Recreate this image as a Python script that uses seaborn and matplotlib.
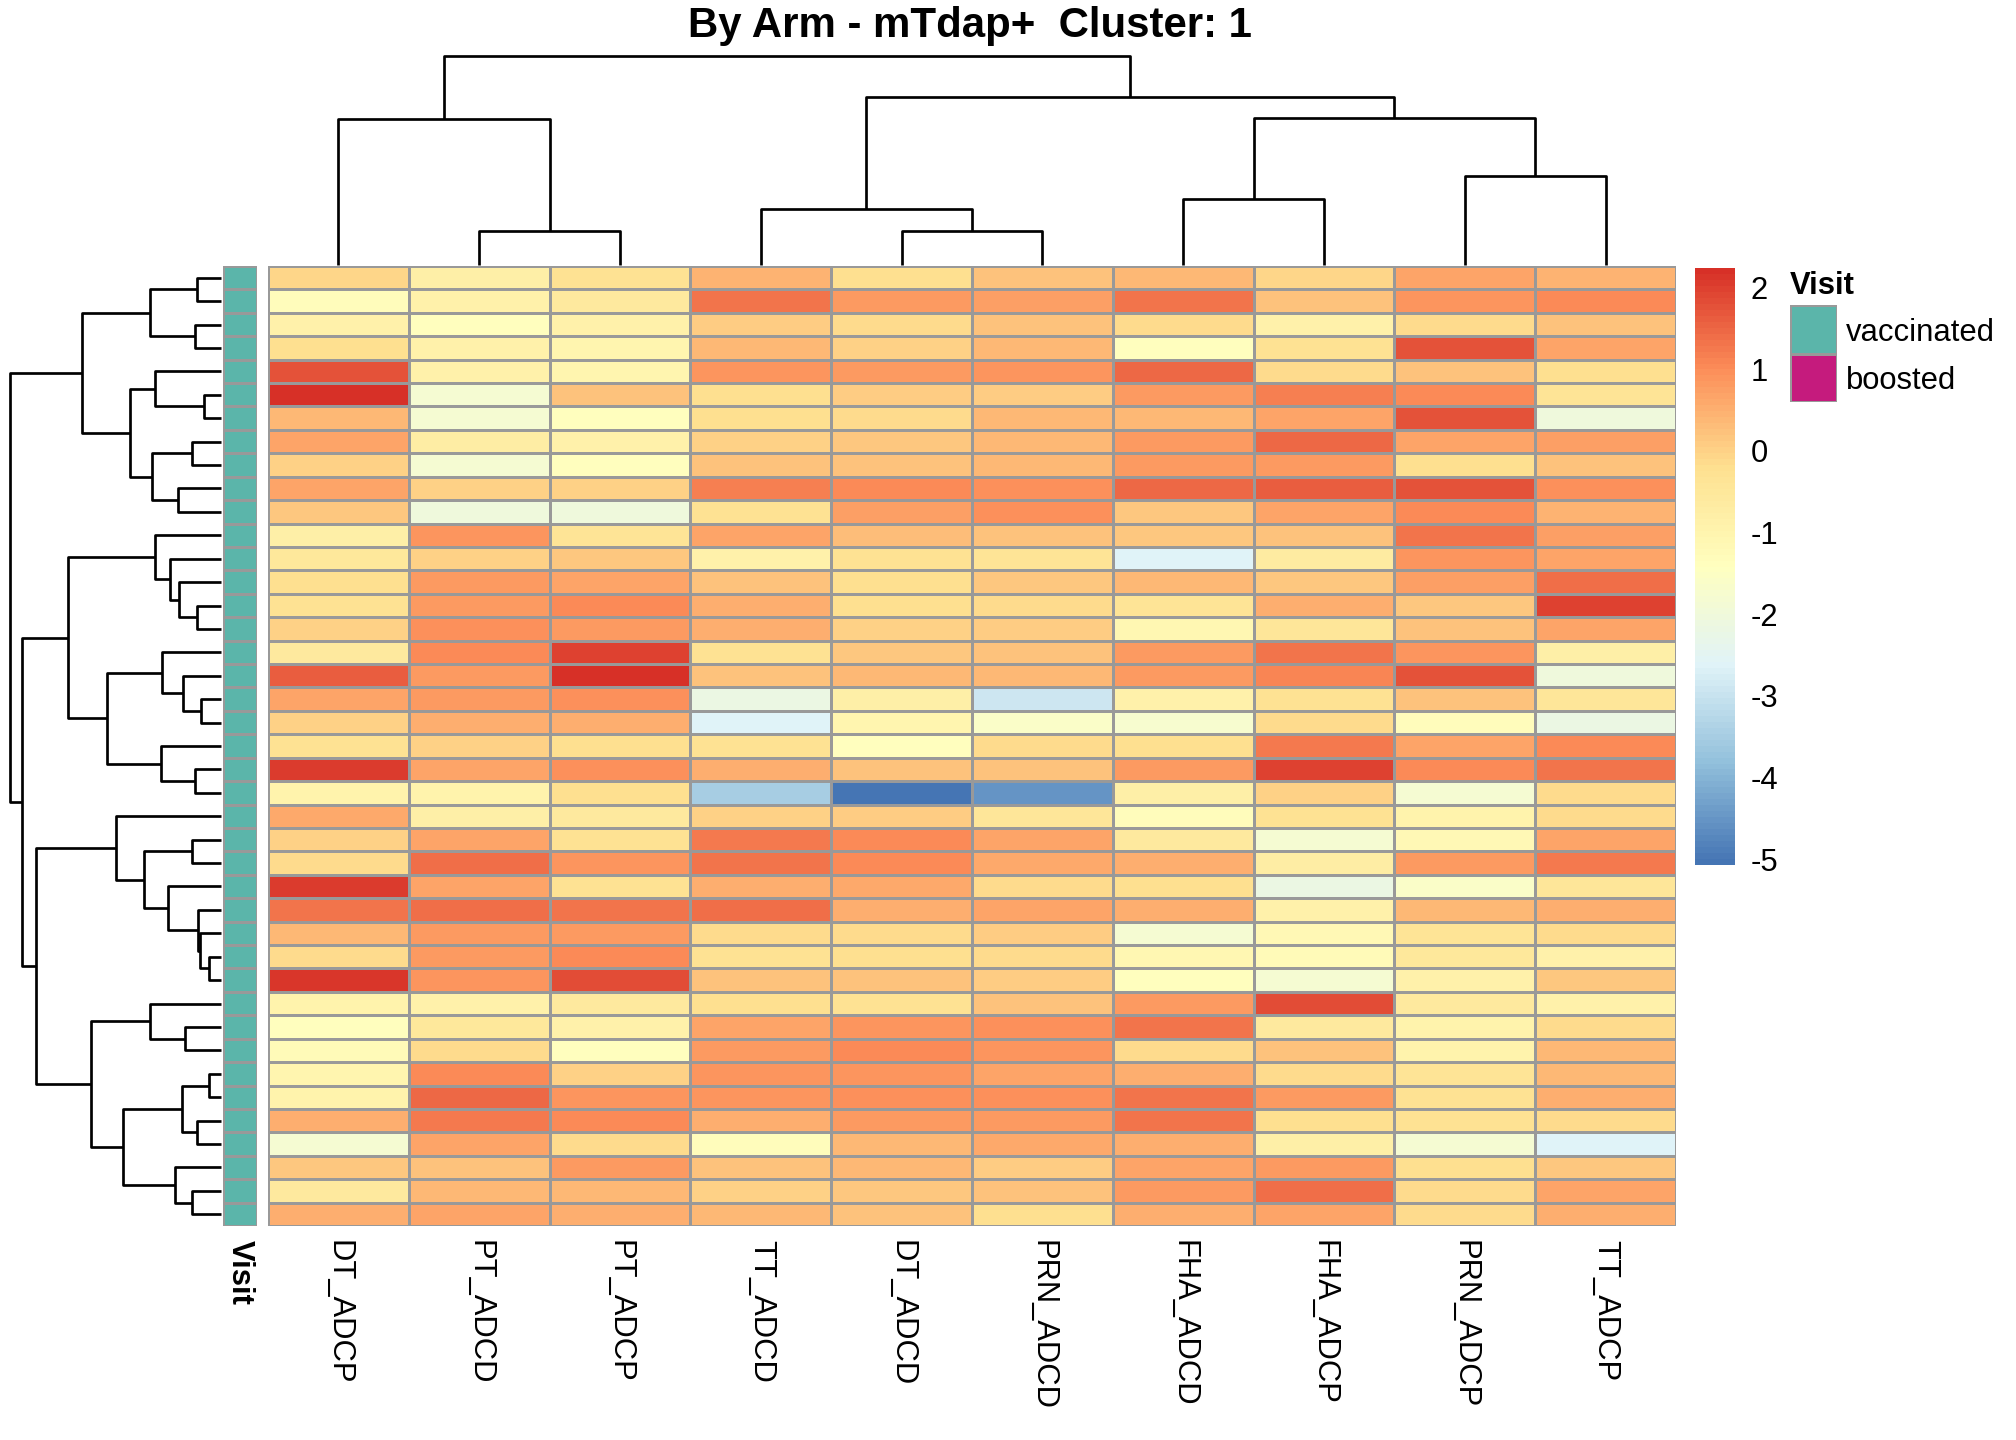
import numpy as np
import pandas as pd
import matplotlib
matplotlib.use("Agg")
import matplotlib.pyplot as plt
from matplotlib.colors import LinearSegmentedColormap, ListedColormap
import seaborn as sns

# ---- data (rows already in dendrogram order, top to bottom) ----
features = ["DT_ADCP", "PT_ADCD", "PT_ADCP", "TT_ADCD", "DT_ADCD",
            "PRN_ADCD", "FHA_ADCD", "FHA_ADCP", "PRN_ADCP", "TT_ADCP"]

dt_adcp = [-0.05, -1.3, -0.85, -0.2, 1.8, 2.2, 0.4, 0.65, 0.0, 0.7,
           0.15, -0.8, -0.5, -0.2, -0.3, 0.0, -0.55, 1.6, 0.7, 0.0,
           -0.3, 2.05, -0.95, 0.6, 0.0, -0.1, 2.05, 1.35, 0.4, -0.1,
           2.1, -0.95, -1.4, -1.25, -1.0, -0.95, 0.5, -1.85, 0.15, -0.55, 0.5]
pt_adcd = [-0.8, -0.9, -1.4, -0.85, -0.85, -1.85, -1.8, -0.7, -1.85, 0.0,
           -2.05, 0.9, 0.0, 0.8, 0.85, 0.95, 1.0, 0.85, 0.8, 0.5,
           0.0, 0.65, -0.95, -0.8, 0.65, 1.4, 0.65, 1.4, 0.85, 0.85,
           0.9, -0.85, -0.5, -0.15, 1.0, 1.5, 1.25, 0.65, 0.2, 0.35, 0.65]
pt_adcp = [-0.3, -0.6, -0.9, -1.0, -1.0, 0.2, -1.4, -0.9, -1.35, 0.0,
           -2.05, -0.35, 0.15, 0.65, 1.05, 0.85, 1.95, 2.2, 0.95, 0.5,
           -0.2, 0.95, -0.2, -0.6, -0.3, 0.9, -0.3, 1.35, 0.85, 1.0,
           1.85, -0.6, -0.85, -1.4, 0.0, 0.9, 1.0, -0.1, 0.85, 0.35, 0.5]
tt_adcd = [0.45, 1.35, 0.05, 0.4, 0.9, -0.2, -0.2, 0.0, 0.25, 1.2,
           -0.25, 0.7, -0.9, 0.2, 0.55, 0.5, -0.3, 0.2, -2.2, -2.6,
           -0.3, 0.5, -3.5, 0.0, 1.25, 1.35, 0.55, 1.4, -0.15, -0.25,
           0.2, -0.2, 0.65, 0.85, 0.9, 0.9, 0.5, -1.3, 0.2, 0.0, 0.4]
dt_adcd = [-0.2, 0.8, -0.15, 0.0, 0.85, 0.1, -0.1, 0.15, 0.2, 1.05,
           0.75, 0.3, -0.25, -0.2, -0.2, 0.0, 0.15, 0.4, -0.8, -1.0,
           -1.4, 0.2, -5.05, 0.1, 1.0, 1.0, 0.6, 0.5, -0.15, -0.2,
           0.2, -0.3, 0.9, 1.0, 0.9, 0.95, 0.8, 0.4, 0.35, 0.15, 0.2]
prn_adcd = [0.25, 0.75, 0.2, 0.4, 0.9, 0.05, 0.35, 0.4, 0.35, 0.95,
            0.95, 0.25, -0.35, 0.15, -0.15, 0.05, 0.25, 0.4, -2.9, -1.6,
            -0.1, 0.2, -4.55, -0.4, 0.65, 0.6, -0.1, 0.65, 0.1, -0.15,
            0.05, 0.25, 0.95, 0.9, 0.65, 0.95, 0.8, 0.6, 0.05, 0.2, -0.2]
fha_adcd = [0.4, 1.3, -0.15, -1.4, 1.5, 0.85, 0.35, 0.85, 0.85, 1.5,
            0.15, 0.15, -2.6, 0.4, -0.35, -1.05, 0.8, 0.85, -0.85, -1.75,
            -0.2, 0.85, -0.8, -1.3, -0.55, 0.5, -0.2, 0.5, -1.85, -1.05,
            -1.4, 0.85, 1.3, -0.15, 0.5, 1.35, 1.35, 0.5, 0.65, 0.8, 0.5]
fha_adcp = [-0.05, 0.2, -0.85, -0.25, -0.15, 1.2, 0.65, 1.5, 0.8, 1.6,
            0.7, 0.2, -0.65, 0.15, 0.5, -0.45, 1.35, 1.1, -0.3, -0.15,
            1.25, 2.0, 0.0, -0.3, -1.85, -0.75, -2.2, -0.85, -1.15, -1.25,
            -1.85, 1.85, -0.6, 0.2, -0.1, 0.8, -0.2, -0.8, 0.85, 1.4, 0.65]
prn_adcp = [0.7, 0.9, -0.1, 1.8, 0.2, 1.0, 1.75, 0.7, -0.2, 1.8,
            1.05, 1.3, 0.9, 0.75, 0.15, 0.25, 0.9, 1.8, 0.25, -1.3,
            0.7, 1.0, -1.85, -0.95, -1.15, 0.8, -1.6, 0.35, -0.35, -0.5,
            -0.85, -0.6, -0.95, -0.95, -0.35, -0.3, -0.3, -1.85, -0.2, -0.15, -0.15]
tt_adcp = [0.45, 1.05, 0.2, 0.7, -0.2, -0.35, -2.05, 0.75, 0.25, 0.95,
           0.45, 0.75, 0.65, 1.4, 2.0, 0.65, -0.8, -2.05, -0.45, -2.2,
           1.0, 1.35, -0.1, -0.1, 0.65, 1.25, -0.45, 0.5, -0.1, -0.85,
           0.15, -0.85, -0.15, 0.4, 0.4, 0.5, -0.1, -2.6, 0.15, 0.65, 0.5]

visit = ["vaccinated"] * 41
visit_levels = ["vaccinated", "boosted"]

# hierarchical merges (child a, child b, height); ids >= n_leaves are earlier merges
row_merges = [
    (0, 1, 71), (2, 3, 78), (41, 42, 213), (5, 6, 51), (4, 44, 198),
    (7, 8, 88), (9, 10, 128), (46, 47, 208), (45, 48, 273), (43, 49, 418),
    (14, 15, 71), (13, 51, 125), (12, 52, 153), (11, 53, 198), (18, 19, 61),
    (17, 55, 115), (16, 56, 176), (21, 22, 78), (20, 58, 180), (57, 59, 341),
    (54, 60, 458), (24, 25, 88), (29, 30, 35), (28, 63, 63), (27, 64, 70),
    (26, 65, 158), (62, 66, 230), (23, 67, 315), (32, 33, 108), (31, 69, 213),
    (34, 35, 35), (36, 37, 71), (71, 72, 116), (39, 40, 88), (38, 74, 138),
    (73, 75, 293), (70, 76, 390), (68, 77, 556), (61, 78, 596), (50, 79, 633),
]
col_merges = [
    (1, 2, 102), (0, 10, 438), (4, 5, 102), (3, 12, 167), (6, 7, 197),
    (8, 9, 267), (14, 15, 440), (13, 16, 503), (11, 17, 626),
]

df = pd.DataFrame(dict(zip(features, [dt_adcp, pt_adcd, pt_adcp, tt_adcd, dt_adcd,
                                      prn_adcd, fha_adcd, fha_adcp, prn_adcp, tt_adcp])))
n_rows, n_cols = df.shape

# ---- style ----
sns.set_theme(style="white")
plt.rcParams["font.family"] = ["Liberation Sans", "DejaVu Sans"]
plt.rcParams["axes.unicode_minus"] = False
for key in ["text.color", "axes.labelcolor", "xtick.color", "ytick.color"]:
    plt.rcParams[key] = "black"
fs = 15.5
grid_col = "#999999"

ph_cmap = LinearSegmentedColormap.from_list(
    "pheat", ["#4575B4", "#91BFDB", "#E0F3F8", "#FFFFBF", "#FEE090", "#FC8D59", "#D73027"], N=100)
ann_cmap = ListedColormap(["#5BB5AA", "#C51B7D"])


def dendro_segments(merges, n_leaves):
    pos = {i: i + 0.5 for i in range(n_leaves)}
    hgt = {i: 0.0 for i in range(n_leaves)}
    segs = []
    for k, (a, b, h) in enumerate(merges):
        segs.append(([pos[a], pos[a], pos[b], pos[b]], [hgt[a], h, h, hgt[b]]))
        pos[n_leaves + k] = (pos[a] + pos[b]) / 2
        hgt[n_leaves + k] = h
    return segs


W, H = 2016, 1440
fig = plt.figure(figsize=(14, 10), dpi=144)


def px_axes(x0, y0, x1, y1):
    return fig.add_axes([x0 / W, 1 - y1 / H, (x1 - x0) / W, (y1 - y0) / H])


top, bottom = 266, 1226
left, right = 268, 1676
ax = px_axes(left, top, right, bottom)
cax = px_axes(1695, 268, 1735, 865)
ann_ax = px_axes(223, top, 257, bottom)
rd_ax = px_axes(10, top, 221, bottom)
cd_ax = px_axes(left, 56, right, 265)
leg_ax = px_axes(1790, 305, 1837, 402)

# main heatmap
sns.heatmap(df, ax=ax, cmap=ph_cmap, vmin=-5.07, vmax=2.24,
            linewidths=1.3, linecolor=grid_col, yticklabels=False,
            xticklabels=features, cbar_ax=cax,
            cbar_kws={"ticks": [-5, -4, -3, -2, -1, 0, 1, 2]})
ax.set_xticklabels(features, rotation=270, fontsize=fs, ha="center", va="top")
ax.tick_params(axis="x", length=0, pad=7)
ax.set_xlabel("")
ax.set_ylabel("")

cbar = ax.collections[0].colorbar
cbar.outline.set_visible(False)
cax.tick_params(length=0, pad=8, labelsize=fs)

# annotation column
ann_df = pd.DataFrame({"Visit": [visit_levels.index(v) for v in visit]})
sns.heatmap(ann_df, ax=ann_ax, cmap=ann_cmap, vmin=0, vmax=1, cbar=False,
            linewidths=1.3, linecolor=grid_col, yticklabels=False, xticklabels=["Visit"])
ann_ax.set_xticklabels(["Visit"], rotation=270, fontsize=fs, fontweight="bold",
                       ha="center", va="top")
ann_ax.tick_params(axis="x", length=0, pad=7)
ann_ax.set_ylabel("")

# dendrograms
for xs, ys in dendro_segments(row_merges, n_rows):
    rd_ax.plot(ys, xs, color="black", lw=1.35, clip_on=False, solid_capstyle="butt")
rd_ax.set_xlim(max(m[2] for m in row_merges), 0)
rd_ax.set_ylim(n_rows, 0)
rd_ax.axis("off")

for xs, ys in dendro_segments(col_merges, n_cols):
    cd_ax.plot(xs, ys, color="black", lw=1.35, clip_on=False, solid_capstyle="butt")
cd_ax.set_xlim(0, n_cols)
cd_ax.set_ylim(0, max(m[2] for m in col_merges))
cd_ax.axis("off")

# annotation legend
leg_df = pd.DataFrame({"Visit": [0, 1]}, index=visit_levels)
sns.heatmap(leg_df, ax=leg_ax, cmap=ann_cmap, vmin=0, vmax=1, cbar=False,
            linewidths=1.3, linecolor=grid_col, xticklabels=False, yticklabels=True)
leg_ax.yaxis.tick_right()
leg_ax.set_yticklabels(visit_levels, rotation=0, fontsize=fs)
leg_ax.tick_params(axis="y", length=0, pad=4.5)
leg_ax.set_ylabel("")
leg_ax.set_title("Visit", loc="left", fontsize=fs, fontweight="bold", pad=5.5)

fig.text(970 / W, 1 - 26 / H, "By Arm - mTdap+  Cluster: 1", ha="center", va="center",
         fontsize=21, fontweight="bold")

fig.savefig("out.png", dpi=144, facecolor="white")
